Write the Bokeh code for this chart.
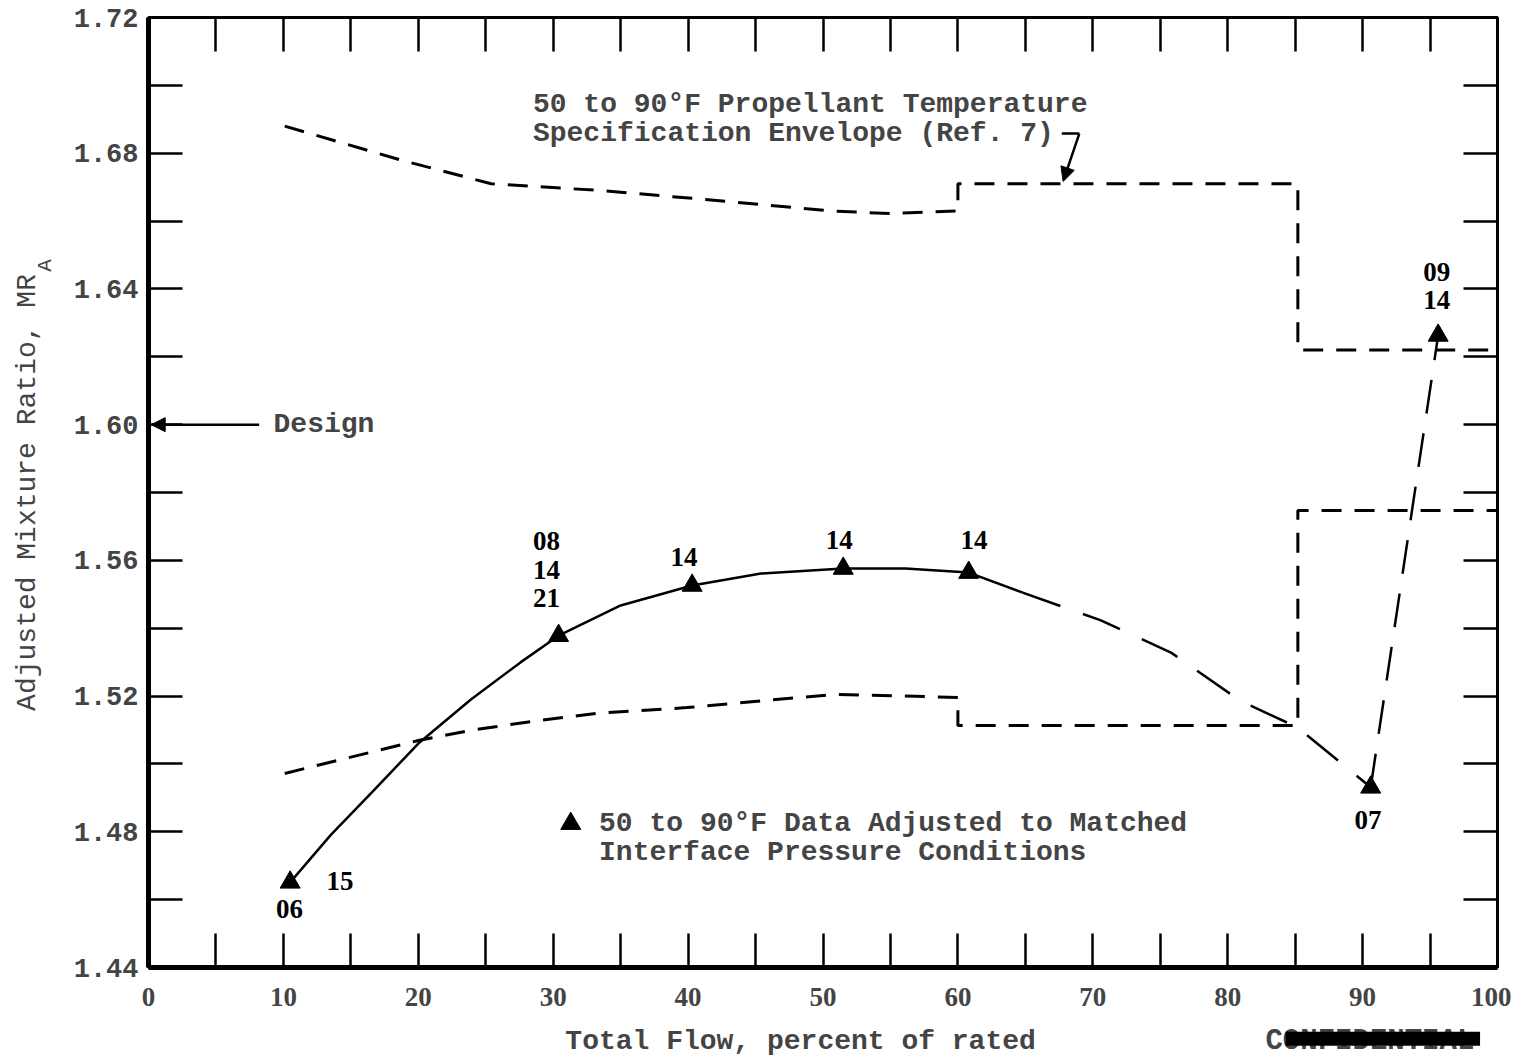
from bokeh.plotting import figure
from bokeh.models import (Range1d, FixedTicker, LinearAxis, Label, Arrow, NormalHead, ColumnDataSource,
                          PrintfTickFormatter, CustomLabelingPolicy)
from bokeh.core.properties import value
from bokeh.embed import file_html
from bokeh.resources import INLINE

# ---------------- data ----------------
x_ticks = [0, 10, 20, 30, 40, 50, 60, 70, 80, 90, 100]
x_minor = [5, 15, 25, 35, 45, 55, 65, 75, 85, 95]
y_ticks = [1.44, 1.48, 1.52, 1.56, 1.60, 1.64, 1.68, 1.72]
y_minor = [1.46, 1.50, 1.54, 1.58, 1.62, 1.66, 1.70]

# specification envelope (upper and lower boundaries)
upper_env_x = [10.1, 18.7, 25.4, 33.5, 40.9, 50.6, 55.0, 60.0, 60.0, 85.2, 85.2, 100.0]
upper_env_y = [1.688, 1.678, 1.671, 1.669, 1.6665, 1.663, 1.6622, 1.663, 1.671, 1.671, 1.622, 1.622]
lower_env_x = [10.1, 20.0, 23.9, 28.9, 33.2, 39.9, 46.5, 51.1, 60.0, 60.0, 85.2, 85.2, 100.0]
lower_env_y = [1.4972, 1.5069, 1.5099, 1.5128, 1.5149, 1.5166, 1.519, 1.5205, 1.5196, 1.5113, 1.5113, 1.5747, 1.5747]

# faired curve through data
solid_x = [10.5, 13.5, 16.7, 20.0, 23.9, 27.6, 30.4, 35.0, 40.3, 45.4, 51.5, 56.1, 60.8, 64.8]
solid_y = [1.4651, 1.4790, 1.4922, 1.5060, 1.5190, 1.5300, 1.5378, 1.5467, 1.5526, 1.5561, 1.5576, 1.5576, 1.5564, 1.5505]
dash_x = [64.8, 70.6, 75.8, 80.9, 85.2, 90.6]
dash_y = [1.5505, 1.5423, 1.5328, 1.5187, 1.5107, 1.4931]
jump_x = [90.6, 95.6]
jump_y = [1.4931, 1.6263]

# data points (50 to 90 F adjusted)
pt_x = [10.5, 30.4, 40.3, 51.5, 60.8, 90.6, 95.6]
pt_y = [1.4651, 1.5378, 1.5526, 1.5576, 1.5564, 1.4931, 1.6263]

# run-number labels
lab_text = ["08", "14", "21", "14", "14", "14", "15", "06", "07", "09", "14"]
lab_x = [29.5, 29.5, 29.5, 39.7, 51.2, 61.2, 14.2, 10.45, 90.4, 95.5, 95.5]
lab_y = [1.5658, 1.5573, 1.5488, 1.5611, 1.5661, 1.5661, 1.4656, 1.4571, 1.4836, 1.6451, 1.6366]

design_value = 1.60

MONO = "Liberation Mono"
SERIF = "Liberation Serif"

# ---------------- figure ----------------
p = figure(frame_width=1349, frame_height=950,
           x_range=Range1d(0, 100), y_range=Range1d(1.44, 1.72),
           output_backend="svg", toolbar_location=None,
           min_border_left=148, min_border_right=14, min_border_top=17, min_border_bottom=84,
           y_axis_label="Adjusted Mixture Ratio, MR")
p.grid.visible = False
p.outline_line_color = "black"
p.outline_line_width = 3
p.background_fill_color = "white"
p.border_fill_color = "white"

TICK = 34
hide_labels = CustomLabelingPolicy(code="for (const i of indices) { indices.unset(i) } return indices")

def style_axis(ax, ticks, minor, show_labels, lw):
    ax.ticker = FixedTicker(ticks=ticks, minor_ticks=minor)
    ax.major_tick_in = TICK
    ax.major_tick_out = 0
    ax.minor_tick_in = TICK
    ax.minor_tick_out = 0
    ax.major_tick_line_width = 2.5
    ax.minor_tick_line_width = 2.5
    ax.major_tick_line_color = "black"
    ax.minor_tick_line_color = "black"
    ax.axis_line_width = lw
    ax.axis_line_color = "black"
    if not show_labels:
        ax.major_label_policy = hide_labels
        ax.major_label_standoff = 0
        ax.major_label_text_font_size = "1px"

xb = p.xaxis[0]
style_axis(xb, x_ticks, x_minor, True, 5)
xb.major_label_text_font = SERIF
xb.major_label_text_font_size = "27px"
xb.major_label_text_font_style = "bold"
xb.major_label_standoff = 20

yl = p.yaxis[0]
style_axis(yl, y_ticks, y_minor, True, 5)
yl.formatter = PrintfTickFormatter(format="%.2f")
yl.major_label_text_font = MONO
yl.major_label_text_font_size = "27px"
yl.major_label_text_font_style = "bold"
yl.major_label_standoff = 10
yl.axis_label_text_font = MONO
yl.axis_label_text_font_size = "28px"
yl.axis_label_text_font_style = "normal"
yl.axis_label_standoff = 28

xt = LinearAxis()
style_axis(xt, x_ticks, x_minor, False, 3)
p.add_layout(xt, "above")
yr = LinearAxis()
style_axis(yr, y_ticks, y_minor, False, 3)
p.add_layout(yr, "right")

# envelope
p.line(upper_env_x, upper_env_y, line_color="black", line_width=3, line_dash="20 13")
p.line(lower_env_x, lower_env_y, line_color="black", line_width=3, line_dash="20 13")

# faired curve
p.line(solid_x, solid_y, line_color="black", line_width=2.5)
p.line(dash_x, dash_y, line_color="black", line_width=2.5, line_dash="40 24")
p.line(jump_x, jump_y, line_color="black", line_width=2.5, line_dash="34 20")

# data points
p.scatter(pt_x, pt_y, marker="triangle", size=20, fill_color="black", line_color="black")

# run labels
src = ColumnDataSource(dict(x=lab_x, y=lab_y, t=lab_text))
p.text(x="x", y="y", text="t", source=src, text_font=value(SERIF), text_font_size="27px",
       text_font_style="bold", text_align="center", text_baseline="middle", text_color="black")

# legend
p.scatter([31.3], [1.4824], marker="triangle", size=20, fill_color="black", line_color="black")
p.add_layout(Label(x=33.4, y=1.4824, text="50 to 90°F Data Adjusted to Matched",
                   text_font=MONO, text_font_size="28px", text_font_style="bold",
                   text_baseline="middle", text_align="left"))
p.add_layout(Label(x=33.4, y=1.4739, text="Interface Pressure Conditions",
                   text_font=MONO, text_font_size="28px", text_font_style="bold",
                   text_baseline="middle", text_align="left"))

# envelope annotation
p.add_layout(Label(x=28.5, y=1.6944, text="50 to 90°F Propellant Temperature",
                   text_font=MONO, text_font_size="28px", text_font_style="bold",
                   text_baseline="middle", text_align="left"))
p.add_layout(Label(x=28.5, y=1.6858, text="Specification Envelope (Ref. 7)",
                   text_font=MONO, text_font_size="28px", text_font_style="bold",
                   text_baseline="middle", text_align="left"))
p.add_layout(Arrow(x_start=67.7, y_start=1.6858, x_end=69.0, y_end=1.6858,
                   line_width=2.5, end=None))
p.add_layout(Arrow(x_start=69.0, y_start=1.6858, x_end=67.8, y_end=1.6717, line_width=2.5,
                   end=NormalHead(size=14, fill_color="black", line_color="black")))

# design marker
p.add_layout(Arrow(x_start=8.2, y_start=design_value, x_end=0.2, y_end=design_value, line_width=2.5,
                   end=NormalHead(size=14, fill_color="black", line_color="black")))
p.add_layout(Label(x=9.27, y=design_value, text="Design",
                   text_font=MONO, text_font_size="28px", text_font_style="bold",
                   text_baseline="middle", text_align="left"))

# texts outside the frame: placed in the bottom side panel so they are not clipped
p.add_layout(Label(x=-7.6, y=1.6469, text="A", angle=90, angle_units="deg",
                   text_font=MONO, text_font_size="21px",
                   text_baseline="middle", text_align="center"), "below")
p.add_layout(Label(x=30.9, y=1.4182, text="Total Flow, percent of rated",
                   text_font=MONO, text_font_size="28px", text_font_style="bold",
                   text_baseline="middle", text_align="left"), "below")
p.add_layout(Label(x=82.8, y=1.4182, text="CONFIDENTIAL",
                   text_font=MONO, text_font_size="29px", text_font_style="bold",
                   text_baseline="middle", text_align="left"), "below")
# strike-out bar over the classification marking
p.add_layout(Label(x=91.5, y=1.4190, text=" " * 27,
                   text_font=MONO, text_font_size="12px", text_color="black",
                   background_fill_color="black",
                   text_baseline="middle", text_align="center"), "below")

open("out.html", "w").write(file_html(p, INLINE))
